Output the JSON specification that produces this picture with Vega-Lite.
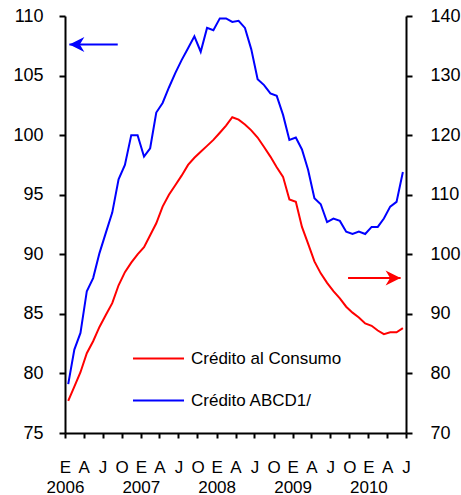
{
  "$schema": "https://vega.github.io/schema/vega-lite/v6.json",
  "width": 341,
  "height": 417,
  "autosize": {"type": "none"},
  "padding": {"left": 65, "top": 16, "right": 55, "bottom": 62},
  "config": {
    "font": "Liberation Sans",
    "view": {"stroke": null},
    "axis": {
      "domainColor": "#000000",
      "domainWidth": 2,
      "tickColor": "#000000",
      "tickWidth": 2,
      "labelColor": "#000000",
      "labelFontSize": 18,
      "labelFont": "Liberation Sans",
      "grid": false,
      "title": null
    },
    "axisX": {
      "tickSize": 5,
      "labelFontSize": 17,
      "labelPadding": 21,
      "labelLineHeight": 20,
      "labelOverlap": false,
      "labelFlush": false,
      "labelBaseline": "top",
      "labelAlign": "center",
      "labelExpr": "[utcmonth(datum.value) == 0 ? 'E' : utcmonth(datum.value) == 3 ? 'A' : utcmonth(datum.value) == 6 ? 'J' : 'O', utcmonth(datum.value) == 0 ? '' + utcyear(datum.value) : '']"
    }
  },
  "datasets": {
    "serie": [
      {"fecha": "2006-01-01", "abcd": 79.1, "consumo": 75.4},
      {"fecha": "2006-02-01", "abcd": 82.0, "consumo": 77.8},
      {"fecha": "2006-03-01", "abcd": 83.4, "consumo": 80.2},
      {"fecha": "2006-04-01", "abcd": 86.9, "consumo": 83.4},
      {"fecha": "2006-05-01", "abcd": 88.0, "consumo": 85.4},
      {"fecha": "2006-06-01", "abcd": 90.1, "consumo": 87.8},
      {"fecha": "2006-07-01", "abcd": 91.8, "consumo": 89.8},
      {"fecha": "2006-08-01", "abcd": 93.5, "consumo": 91.8},
      {"fecha": "2006-09-01", "abcd": 96.3, "consumo": 94.8},
      {"fecha": "2006-10-01", "abcd": 97.5, "consumo": 97.0},
      {"fecha": "2006-11-01", "abcd": 100.0, "consumo": 98.6},
      {"fecha": "2006-12-01", "abcd": 100.0, "consumo": 100.0},
      {"fecha": "2007-01-01", "abcd": 98.2, "consumo": 101.2},
      {"fecha": "2007-02-01", "abcd": 98.9, "consumo": 103.2},
      {"fecha": "2007-03-01", "abcd": 101.9, "consumo": 105.2},
      {"fecha": "2007-04-01", "abcd": 102.7, "consumo": 108.0},
      {"fecha": "2007-05-01", "abcd": 104.0, "consumo": 110.0},
      {"fecha": "2007-06-01", "abcd": 105.2, "consumo": 111.6},
      {"fecha": "2007-07-01", "abcd": 106.3, "consumo": 113.2},
      {"fecha": "2007-08-01", "abcd": 107.3, "consumo": 115.0},
      {"fecha": "2007-09-01", "abcd": 108.3, "consumo": 116.2},
      {"fecha": "2007-10-01", "abcd": 107.0, "consumo": 117.2},
      {"fecha": "2007-11-01", "abcd": 109.0, "consumo": 118.2},
      {"fecha": "2007-12-01", "abcd": 108.8, "consumo": 119.2},
      {"fecha": "2008-01-01", "abcd": 109.8, "consumo": 120.4},
      {"fecha": "2008-02-01", "abcd": 109.8, "consumo": 121.6},
      {"fecha": "2008-03-01", "abcd": 109.5, "consumo": 123.0},
      {"fecha": "2008-04-01", "abcd": 109.6, "consumo": 122.6},
      {"fecha": "2008-05-01", "abcd": 109.0, "consumo": 121.8},
      {"fecha": "2008-06-01", "abcd": 107.2, "consumo": 120.8},
      {"fecha": "2008-07-01", "abcd": 104.7, "consumo": 119.6},
      {"fecha": "2008-08-01", "abcd": 104.2, "consumo": 118.0},
      {"fecha": "2008-09-01", "abcd": 103.5, "consumo": 116.4},
      {"fecha": "2008-10-01", "abcd": 103.3, "consumo": 114.6},
      {"fecha": "2008-11-01", "abcd": 101.7, "consumo": 113.0},
      {"fecha": "2008-12-01", "abcd": 99.6, "consumo": 109.2},
      {"fecha": "2009-01-01", "abcd": 99.8, "consumo": 108.8},
      {"fecha": "2009-02-01", "abcd": 98.8, "consumo": 104.6},
      {"fecha": "2009-03-01", "abcd": 97.1, "consumo": 101.8},
      {"fecha": "2009-04-01", "abcd": 94.7, "consumo": 98.8},
      {"fecha": "2009-05-01", "abcd": 94.2, "consumo": 96.8},
      {"fecha": "2009-06-01", "abcd": 92.7, "consumo": 95.2},
      {"fecha": "2009-07-01", "abcd": 93.0, "consumo": 93.8},
      {"fecha": "2009-08-01", "abcd": 92.8, "consumo": 92.6},
      {"fecha": "2009-09-01", "abcd": 91.9, "consumo": 91.2},
      {"fecha": "2009-10-01", "abcd": 91.7, "consumo": 90.2},
      {"fecha": "2009-11-01", "abcd": 91.9, "consumo": 89.4},
      {"fecha": "2009-12-01", "abcd": 91.7, "consumo": 88.4},
      {"fecha": "2010-01-01", "abcd": 92.3, "consumo": 88.0},
      {"fecha": "2010-02-01", "abcd": 92.3, "consumo": 87.2},
      {"fecha": "2010-03-01", "abcd": 93.0, "consumo": 86.6},
      {"fecha": "2010-04-01", "abcd": 94.0, "consumo": 86.9},
      {"fecha": "2010-05-01", "abcd": 94.4, "consumo": 86.9},
      {"fecha": "2010-06-01", "abcd": 96.9, "consumo": 87.6}
    ],
    "flechas": [
      {"serie": "abcd", "cola": "2006-09-12", "punta": "2006-01-22", "nivel": 107.6},
      {"serie": "consumo", "cola": "2009-09-25", "punta": "2010-06-05", "nivel": 96.0}
    ]
  },
  "layer": [
    {
      "layer": [
        {
          "data": {"name": "serie"},
          "mark": {"type": "line", "strokeWidth": 2},
          "encoding": {
            "x": {
              "field": "fecha",
              "type": "temporal",
              "timeUnit": {"unit": "yearmonth", "utc": true},
              "bandPosition": 0.5,
              "scale": {
                "type": "utc",
                "domain": [1136073600000, 1277942400000]
              },
              "axis": {"values": [1136073600000, 1143849600000, 1151712000000, 1159660800000, 1167609600000, 1175385600000, 1183248000000, 1191196800000, 1199145600000, 1207008000000, 1214870400000, 1222819200000, 1230768000000, 1238544000000, 1246406400000, 1254355200000, 1262304000000, 1270080000000, 1277942400000]}
            },
            "y": {
              "field": "abcd",
              "type": "quantitative",
              "scale": {"domain": [75, 110], "nice": false, "zero": false},
              "axis": {
                "orient": "left",
                "values": [75, 80, 85, 90, 95, 100, 105, 110],
                "tickSize": 6,
                "labelPadding": 16
              }
            },
            "color": {
              "datum": "Crédito ABCD1/",
              "type": "nominal",
              "scale": {
                "domain": ["Crédito al Consumo", "Crédito ABCD1/"],
                "range": ["#ff0000", "#0000ff"]
              },
              "legend": {
                "orient": "none",
                "legendX": 67,
                "legendY": 316,
                "title": null,
                "symbolType": "stroke",
                "symbolSize": 2601,
                "symbolStrokeWidth": 2,
                "labelFontSize": 17,
                "labelFont": "Liberation Sans",
                "labelColor": "#000000",
                "labelOffset": 6,
                "rowPadding": 7,
                "padding": 0
              }
            }
          }
        },
        {
          "data": {"name": "flechas"},
          "transform": [{"filter": "datum.serie == 'abcd'"}],
          "mark": {"type": "rule", "color": "#0000ff", "strokeWidth": 2},
          "encoding": {
            "x": {"field": "cola", "type": "temporal", "axis": {"values": [1136073600000, 1143849600000, 1151712000000, 1159660800000, 1167609600000, 1175385600000, 1183248000000, 1191196800000, 1199145600000, 1207008000000, 1214870400000, 1222819200000, 1230768000000, 1238544000000, 1246406400000, 1254355200000, 1262304000000, 1270080000000, 1277942400000]}},
            "x2": {"field": "punta"},
            "y": {"field": "nivel", "type": "quantitative"}
          }
        },
        {
          "data": {"name": "flechas"},
          "transform": [{"filter": "datum.serie == 'abcd'"}],
          "mark": {"type": "point", "shape": "M0,0 L2,-1 L1.4,0 L2,1 Z", "size": 225, "filled": true, "color": "#0000ff", "opacity": 1, "strokeWidth": 0},
          "encoding": {
            "x": {"field": "punta", "type": "temporal", "axis": {"values": [1136073600000, 1143849600000, 1151712000000, 1159660800000, 1167609600000, 1175385600000, 1183248000000, 1191196800000, 1199145600000, 1207008000000, 1214870400000, 1222819200000, 1230768000000, 1238544000000, 1246406400000, 1254355200000, 1262304000000, 1270080000000, 1277942400000]}},
            "y": {"field": "nivel", "type": "quantitative"}
          }
        }
      ]
    },
    {
      "layer": [
        {
          "data": {"name": "serie"},
          "mark": {"type": "line", "strokeWidth": 2},
          "encoding": {
            "x": {
              "field": "fecha",
              "type": "temporal",
              "timeUnit": {"unit": "yearmonth", "utc": true},
              "bandPosition": 0.5,
              "axis": {"values": [1136073600000, 1143849600000, 1151712000000, 1159660800000, 1167609600000, 1175385600000, 1183248000000, 1191196800000, 1199145600000, 1207008000000, 1214870400000, 1222819200000, 1230768000000, 1238544000000, 1246406400000, 1254355200000, 1262304000000, 1270080000000, 1277942400000]}
            },
            "y": {
              "field": "consumo",
              "type": "quantitative",
              "scale": {"domain": [70, 140], "nice": false, "zero": false},
              "axis": {
                "orient": "right",
                "values": [70, 80, 90, 100, 110, 120, 130, 140],
                "tickSize": 6,
                "labelPadding": 18
              }
            },
            "color": {"datum": "Crédito al Consumo", "type": "nominal"}
          }
        },
        {
          "data": {"name": "flechas"},
          "transform": [{"filter": "datum.serie == 'consumo'"}],
          "mark": {"type": "rule", "color": "#ff0000", "strokeWidth": 2},
          "encoding": {
            "x": {"field": "cola", "type": "temporal", "axis": {"values": [1136073600000, 1143849600000, 1151712000000, 1159660800000, 1167609600000, 1175385600000, 1183248000000, 1191196800000, 1199145600000, 1207008000000, 1214870400000, 1222819200000, 1230768000000, 1238544000000, 1246406400000, 1254355200000, 1262304000000, 1270080000000, 1277942400000]}},
            "x2": {"field": "punta"},
            "y": {"field": "nivel", "type": "quantitative"}
          }
        },
        {
          "data": {"name": "flechas"},
          "transform": [{"filter": "datum.serie == 'consumo'"}],
          "mark": {"type": "point", "shape": "M0,0 L-2,-1 L-1.4,0 L-2,1 Z", "size": 225, "filled": true, "color": "#ff0000", "opacity": 1, "strokeWidth": 0},
          "encoding": {
            "x": {"field": "punta", "type": "temporal", "axis": {"values": [1136073600000, 1143849600000, 1151712000000, 1159660800000, 1167609600000, 1175385600000, 1183248000000, 1191196800000, 1199145600000, 1207008000000, 1214870400000, 1222819200000, 1230768000000, 1238544000000, 1246406400000, 1254355200000, 1262304000000, 1270080000000, 1277942400000]}},
            "y": {"field": "nivel", "type": "quantitative"}
          }
        }
      ]
    }
  ],
  "resolve": {"scale": {"y": "independent"}, "axis": {"y": "independent"}}
}
